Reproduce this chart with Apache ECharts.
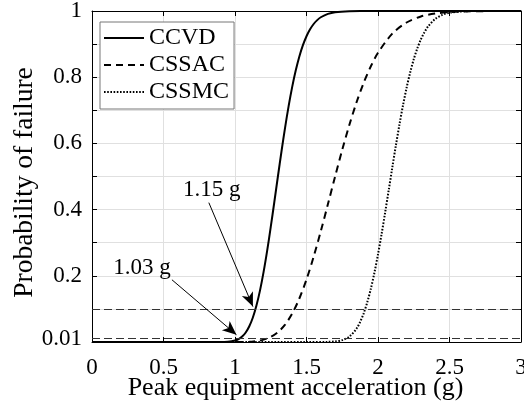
<!DOCTYPE html>
<html>
<head>
<meta charset="utf-8">
<script src="https://cdn.jsdelivr.net/npm/echarts@6/dist/echarts.min.js"></script>
<style>
html,body{margin:0;padding:0;background:#fff;}
#chart{width:524px;height:402px;}
</style>
</head>
<body>
<div id="chart"></div>
<script>
// ---- data ----
const seriesNames = ['CCVD', 'CSSAC', 'CSSMC'];
const xTicks = [0, 0.5, 1, 1.5, 2, 2.5, 3];
const yTickLabels = [0.01, 0.2, 0.4, 0.6, 0.8, 1];
const thresholds = [0.1, 0.01];

const ccvdX = [0, 0.5, 0.9, 0.95, 1.0, 1.025, 1.05, 1.075, 1.1, 1.125, 1.15, 1.175, 1.2, 1.225, 1.25, 1.275, 1.3, 1.325, 1.35, 1.375, 1.4, 1.425, 1.45, 1.475, 1.5, 1.525, 1.55, 1.575, 1.6, 1.65, 1.7, 1.8, 1.9, 2.0, 2.5, 3.0];
const ccvdY = [0, 0, 0, 0.0009, 0.0044, 0.0087, 0.0164, 0.0287, 0.0475, 0.0741, 0.1102, 0.156, 0.2117, 0.2762, 0.3475, 0.423, 0.5, 0.5755, 0.6471, 0.7126, 0.7707, 0.8207, 0.8626, 0.8967, 0.9238, 0.9448, 0.9607, 0.9725, 0.9811, 0.9914, 0.9964, 0.9994, 0.9999, 1, 1, 1];

const cssacX = [0, 0.5, 1.0, 1.1, 1.15, 1.2, 1.25, 1.3, 1.35, 1.4, 1.45, 1.5, 1.55, 1.6, 1.65, 1.7, 1.75, 1.8, 1.85, 1.9, 1.95, 2.0, 2.1, 2.2, 2.3, 2.4, 2.5, 2.6, 2.8, 3.0];
const cssacY = [0, 0, 0, 0.0005, 0.003, 0.0071, 0.0152, 0.0294, 0.0522, 0.0858, 0.1314, 0.189, 0.2577, 0.3347, 0.4168, 0.5, 0.5809, 0.6563, 0.7242, 0.7833, 0.833, 0.8738, 0.9316, 0.9653, 0.9834, 0.9924, 0.9967, 0.9986, 0.9998, 1];

const cssmcX = [0, 0.5, 1.0, 1.5, 1.65, 1.7, 1.75, 1.8, 1.85, 1.875, 1.9, 1.925, 1.95, 1.975, 2.0, 2.025, 2.05, 2.075, 2.1, 2.125, 2.15, 2.175, 2.2, 2.225, 2.25, 2.275, 2.3, 2.325, 2.35, 2.4, 2.45, 2.5, 2.6, 2.7, 3.0];
const cssmcY = [0, 0, 0, 0, 0.0004, 0.0016, 0.0056, 0.0164, 0.0407, 0.0605, 0.0867, 0.12, 0.161, 0.2094, 0.2648, 0.3259, 0.3913, 0.459, 0.5272, 0.5938, 0.657, 0.7155, 0.7682, 0.8144, 0.854, 0.8872, 0.9143, 0.936, 0.953, 0.9759, 0.9884, 0.9948, 0.9991, 0.9999, 1];

// annotations: label text, text position, arrow start, arrow tip (data units)
const annoLabels = ['1.15 g', '1.03 g'];
const annoTextPos = [[0.838, 0.459], [0.349, 0.225]];
const annoArrowFrom = [[0.817, 0.421], [0.559, 0.188]];
const annoArrowTo = [[1.125, 0.107], [1.01, 0.022]];

// ---- chart ----
const FONT = 'Liberation Serif';
const zip = (xs, ys) => xs.map((x, i) => [x, ys[i]]);

const chart = echarts.init(document.getElementById('chart'), null, {renderer: 'canvas'});

const baseX = {type: 'value', min: 0, max: 3, interval: 0.5};
const baseY = {type: 'value', min: 0, max: 1, interval: 0.1};
const boxLine = {show: true, onZero: false, lineStyle: {color: '#000', width: 1}};
const inTick = {show: true, inside: true, length: 5, lineStyle: {color: '#000', width: 1}};
const gridLine = {show: true, lineStyle: {color: '#e0e0e0', width: 1}};

const styles = {
  CCVD: {color: '#000', width: 2, type: 'solid'},
  CSSAC: {color: '#000', width: 2, type: [7, 5]},
  CSSMC: {color: '#000', width: 2, type: [1.6, 1.6]}
};

const option = {
  backgroundColor: '#fff',
  animation: false,
  grid: {left: 92, right: 3, top: 11, bottom: 60, containLabel: false, outerBoundsMode: 'none'},
  legend: {
    data: seriesNames.map(n => ({name: n})),
    orient: 'vertical',
    left: 100, top: 22,
    itemWidth: 40, itemHeight: 14, itemGap: 3,
    padding: [4, 5, 5, 3],
    backgroundColor: '#fff',
    borderColor: '#777', borderWidth: 1,
    itemStyle: {opacity: 0, borderWidth: 0},
    textStyle: {fontFamily: FONT, fontSize: 24, color: '#000'},
    selectedMode: false
  },
  xAxis: [
    Object.assign({}, baseX, {
      position: 'bottom',
      name: 'Peak equipment acceleration (g)',
      nameLocation: 'middle', nameGap: 33, nameMoveOverlap: false,
      nameTextStyle: {fontFamily: FONT, fontSize: 26, color: '#000', padding: [0, 22, 0, 0]},
      axisLine: boxLine, axisTick: inTick,
      axisLabel: {show: true, margin: 14, fontFamily: FONT, fontSize: 23, color: '#000',
        customValues: xTicks, formatter: v => String(v)},
      splitLine: gridLine
    }),
    Object.assign({}, baseX, {
      position: 'top', axisLine: boxLine, axisTick: inTick,
      axisLabel: {show: false}, splitLine: {show: false}
    })
  ],
  yAxis: [
    Object.assign({}, baseY, {
      position: 'left',
      name: 'Probability of failure',
      nameLocation: 'middle', nameGap: 53, nameMoveOverlap: false,
      nameTextStyle: {fontFamily: FONT, fontSize: 27.5, color: '#000', padding: [0, 12, 0, 0]},
      axisLine: boxLine, axisTick: inTick,
      axisLabel: {show: true, margin: 10, fontFamily: FONT, fontSize: 23, color: '#000',
        customValues: yTickLabels, formatter: v => String(v)},
      splitLine: gridLine
    }),
    Object.assign({}, baseY, {
      position: 'right', axisLine: boxLine, axisTick: inTick,
      axisLabel: {show: false}, splitLine: {show: false}
    })
  ],
  series: [
    {
      name: 'reference lines', type: 'line', data: [], silent: true,
      markLine: {
        silent: true, symbol: ['none', 'none'], label: {show: false},
        lineStyle: {color: '#333', width: 1, type: [8, 4]},
        data: thresholds.map(t => ({yAxis: t}))
      }
    },
    {
      name: 'CCVD', type: 'line', data: zip(ccvdX, ccvdY),
      showSymbol: false, symbol: 'none', smooth: 0.3,
      lineStyle: styles.CCVD, itemStyle: {color: '#000'}
    },
    {
      name: 'CSSAC', type: 'line', data: zip(cssacX, cssacY),
      showSymbol: false, symbol: 'none', smooth: 0.3,
      lineStyle: styles.CSSAC, itemStyle: {color: '#000'}
    },
    {
      name: 'CSSMC', type: 'line', data: zip(cssmcX, cssmcY),
      showSymbol: false, symbol: 'none', smooth: 0.3,
      lineStyle: styles.CSSMC, itemStyle: {color: '#000'}
    },
    {
      name: 'annotations', type: 'line', data: [], silent: true,
      markLine: {
        silent: true, symbol: ['none', 'arrow'], symbolSize: [9, 14],
        label: {show: false},
        lineStyle: {color: '#000', width: 1, type: 'solid'},
        data: annoArrowFrom.map((p, i) => [{coord: p}, {coord: annoArrowTo[i]}])
      },
      markPoint: {
        silent: true, symbol: 'circle', symbolSize: 0,
        data: annoLabels.map((t, i) => ({
          coord: annoTextPos[i], value: t,
          label: {show: true, position: 'inside', formatter: t,
            fontFamily: FONT, fontSize: 23, color: '#000'}
        }))
      }
    }
  ]
};
chart.setOption(option);
</script>
</body>
</html>
